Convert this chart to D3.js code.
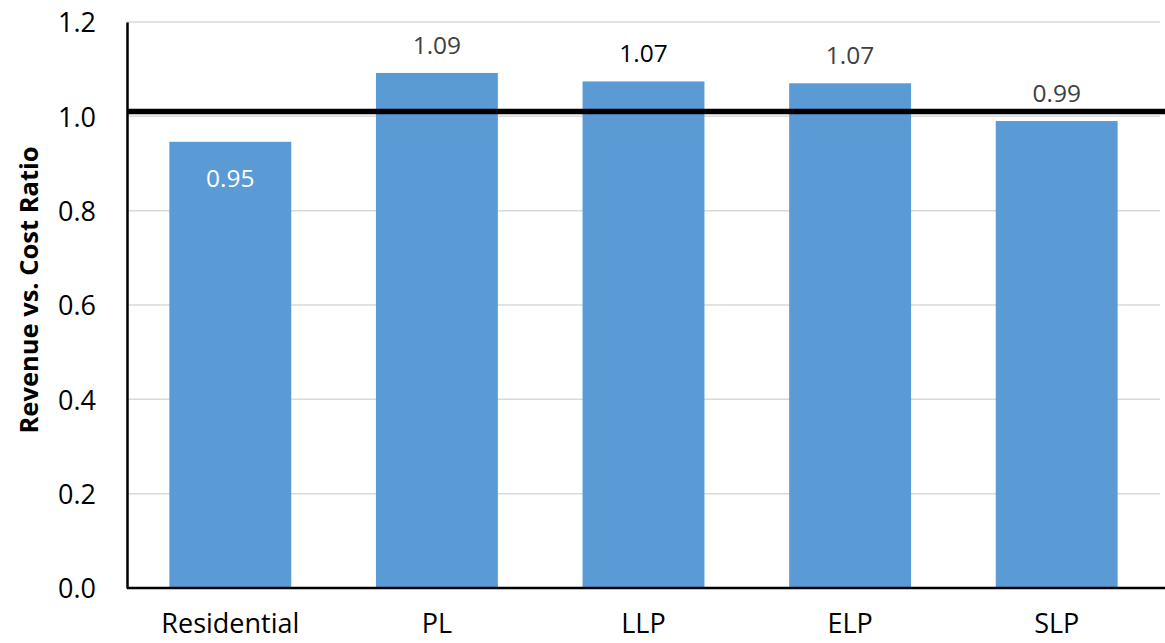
<!DOCTYPE html>
<html>
<head>
<meta charset="utf-8">
<script src="https://cdn.jsdelivr.net/npm/d3@7"></script>
<style>
  body { margin: 0; background: #fff; }
  svg text { font-family: "Open Sans", "Noto Sans", sans-serif; }
</style>
</head>
<body>
<svg id="chart" width="1165" height="643"></svg>
<script>
// chart data
const categories = ["Residential", "PL", "LLP", "ELP", "SLP"];
const ratios = [0.946, 1.092, 1.074, 1.070, 0.990];
const valueLabels = ["0.95", "1.09", "1.07", "1.07", "0.99"];
const yTicks = [0, 0.2, 0.4, 0.6, 0.8, 1.0, 1.2];
const breakEven = 1.01;

const svg = d3.select("#chart");
const margin = {top: 22, right: 5, bottom: 55, left: 127};

const x = d3.scaleBand()
    .domain(categories)
    .range([0, 1033])
    .paddingInner(0.41)
    .paddingOuter(0.205);

const y = d3.scaleLinear()
    .domain([0, 1.2])
    .range([566, 0]);

const g = svg.append("g").attr("transform", `translate(${margin.left},${margin.top})`);

// gridlines
g.append("g")
    .selectAll("line")
    .data(yTicks.filter(d => d > 0))
    .join("line")
    .attr("x1", 0)
    .attr("x2", 1033)
    .attr("y1", d => y(d))
    .attr("y2", d => y(d))
    .attr("stroke", "#d9d9d9")
    .attr("stroke-width", 1.5);

// bars
g.append("g")
    .selectAll("rect")
    .data(ratios)
    .join("rect")
    .attr("x", (d, i) => x(categories[i]))
    .attr("y", d => y(d))
    .attr("width", x.bandwidth())
    .attr("height", d => y(0) - y(d))
    .attr("fill", "#5b9bd5");

// break-even line
g.append("line")
    .attr("x1", 0)
    .attr("x2", 1038)
    .attr("y1", y(breakEven))
    .attr("y2", y(breakEven))
    .attr("stroke", "#000")
    .attr("stroke-width", 5.5);

// value labels (first one sits inside the bar)
g.append("g")
    .selectAll("text")
    .data(ratios)
    .join("text")
    .attr("x", (d, i) => x(categories[i]) + x.bandwidth() / 2)
    .attr("y", (d, i) => i === 0 ? y(d) + 45 : y(d) - 19)
    .attr("text-anchor", "middle")
    .attr("font-size", 24.5)
    .attr("fill", (d, i) => i === 0 ? "#fff" : (i === 2 ? "#000" : "#404040"))
    .text((d, i) => valueLabels[i]);

// y axis
const yAxis = g.append("g")
    .call(d3.axisLeft(y).tickValues(yTicks).tickFormat(d3.format(".1f")).tickSize(0).tickPadding(31));
yAxis.select(".domain").attr("stroke", "#000").attr("stroke-width", 2.5);
yAxis.selectAll("text").attr("font-size", 27).attr("fill", "#000").attr("dy", "0.36em")
    .style("font-family", "'Open Sans', sans-serif");

// x axis
const xAxis = g.append("g")
    .attr("transform", `translate(0,${y(0)})`)
    .call(d3.axisBottom(x).tickSize(0).tickPadding(26));
xAxis.select(".domain").attr("stroke", "#000").attr("stroke-width", 2.5).attr("d", "M0,0H1038");
xAxis.selectAll("text").attr("font-size", 27).attr("fill", "#000")
    .style("font-family", "'Open Sans', sans-serif");

// y axis title
svg.append("text")
    .attr("transform", "translate(38,290) rotate(-90)")
    .attr("text-anchor", "middle")
    .attr("font-size", 25.5)
    .attr("font-weight", "bold")
    .attr("fill", "#000")
    .text("Revenue vs. Cost Ratio");
</script>
</body>
</html>
